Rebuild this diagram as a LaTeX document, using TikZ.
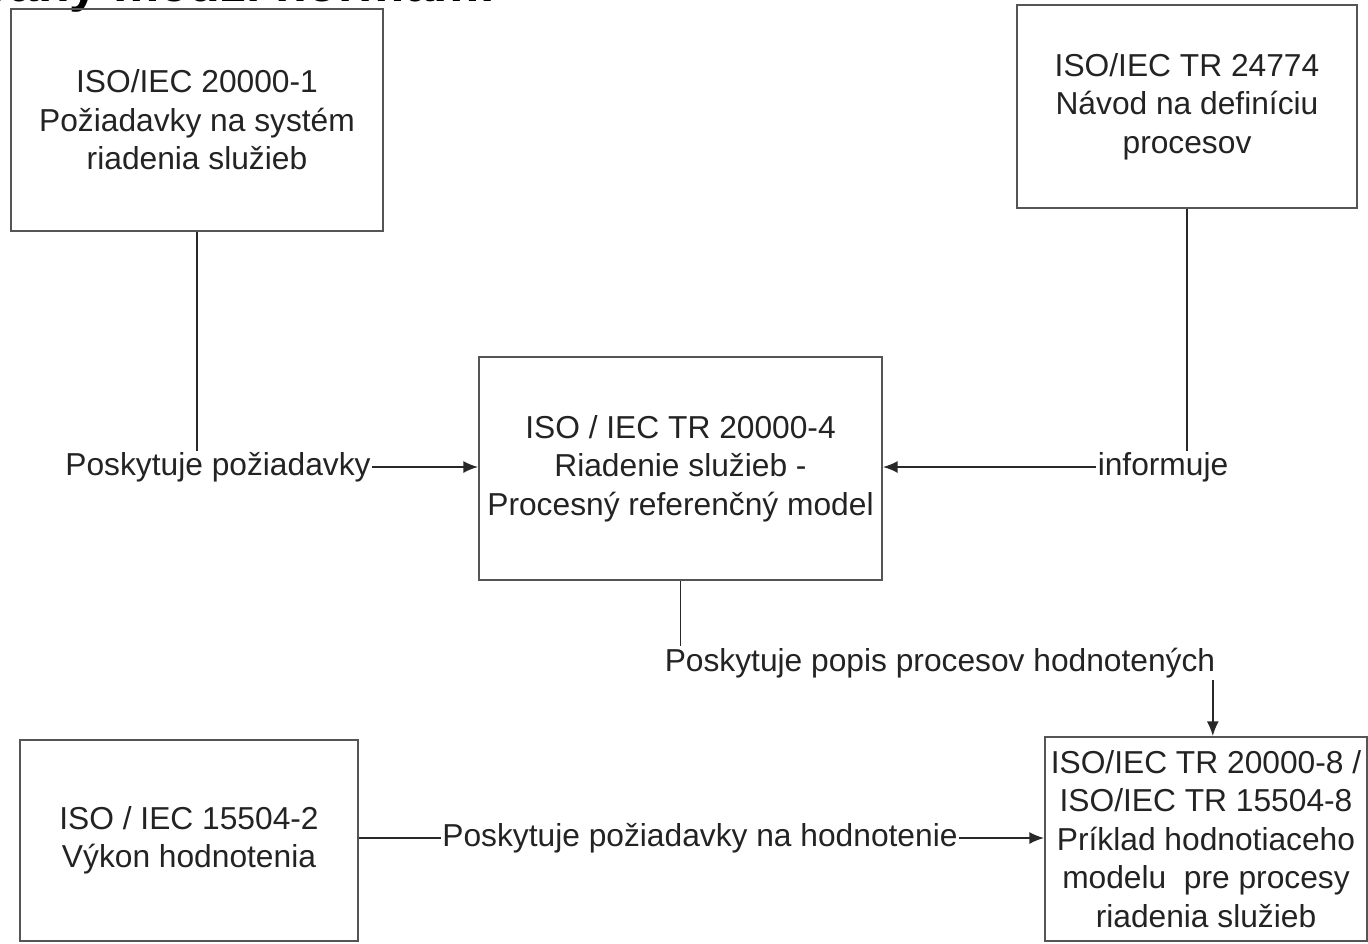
\documentclass[tikz,border=0pt]{standalone}
\usepackage{fontspec}
\setmainfont{Liberation Sans}
\usetikzlibrary{arrows.meta,positioning}
\definecolor{boxline}{RGB}{85,85,85}
\definecolor{linedark}{RGB}{40,40,40}
\definecolor{textgray}{RGB}{35,35,35}
\tikzset{
  font=\fontsize{23.8}{28.9}\selectfont,
  box/.style={
    draw=boxline,
    line width=1.5pt,
    align=center,
    inner sep=0pt,
    text=textgray
  },
  lbl/.style={inner xsep=1pt,inner ysep=1pt,text=textgray},
  heading/.style={font=\fontsize{39}{44}\selectfont\bfseries,text=black,inner sep=0pt},
  link/.style={draw=linedark,line width=1.2pt},
  arrow/.style={link,-{Latex[length=11pt,width=9pt]}}
}

\begin{document}
\begin{tikzpicture}[x=0.75pt,y=-0.75pt]
  \useasboundingbox (0,0) rectangle (1368,943);

  \begin{scope}
    \clip (0,0) rectangle (1368,943);
    \node[heading,anchor=base east] (title) at (495,1) {Vzťahy medzi normami};
  \end{scope}

  \node[box,minimum width=279pt,minimum height=166.5pt] (req) at (197,120) {
    ISO/IEC 20000-1\\Požiadavky na systém\\riadenia služieb
  };

  \node[box,minimum width=255pt,minimum height=152.25pt] (guide) at (1187,106.5) {
    ISO/IEC TR 24774\\Návod na definíciu\\procesov
  };

  \node[box,minimum width=302.25pt,minimum height=167.25pt] (ref) at (680.5,468.5) {
    ISO / IEC TR 20000-4\\Riadenie služieb -\\Procesný referenčný model
  };

  \node[box,minimum width=253.5pt,minimum height=150.75pt] (perf) at (189,840.5) {
    ISO / IEC 15504-2\\Výkon hodnotenia
  };

  \node[box,minimum width=241.5pt,minimum height=153pt] (example) at (1206,839) {
    ISO/IEC TR 20000-8 /\\ISO/IEC TR 15504-8\\Príklad hodnotiaceho\\modelu \ pre procesy\\riadenia služieb
  };

  \node[lbl] (provreq) at (218,467) {Poskytuje požiadavky};
  \node[lbl] (informs) at (1163,467) {informuje};
  \node[lbl] (provdesc) at (940,663) {Poskytuje popis procesov hodnotených};
  \node[lbl] (provassess) at (700,838) {Poskytuje požiadavky na hodnotenie};

  \draw[link] (req.south) -- (req.south |- provreq.north);
  \draw[arrow] (provreq.east) -- (provreq.east -| ref.west);
  \draw[link] (guide.south) -- (guide.south |- informs.north);
  \draw[arrow] (informs.west) -- (informs.west -| ref.east);
  \draw[link] (ref.south) -- (ref.south |- provdesc.north);
  \draw[arrow] ([xshift=-3pt]provdesc.south east) -- ([xshift=-3pt]provdesc.south east |- example.north);
  \draw[link] (provassess.west -| perf.east) -- (provassess.west);
  \draw[arrow] (provassess.east) -- (provassess.east -| example.west);

\end{tikzpicture}
\end{document}
